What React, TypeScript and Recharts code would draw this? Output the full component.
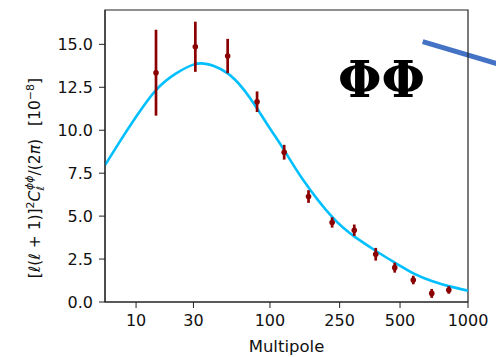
import React from 'react';
import {
  ComposedChart, Line, Scatter, ErrorBar, XAxis, YAxis, ReferenceArea,
} from 'recharts';

// binned lensing bandpowers
const ellPoints = [15, 31, 53, 83, 122, 169, 228, 298, 382, 472, 576, 698, 829];
const cppPoints = [13.35, 14.86, 14.32, 11.66, 8.72, 6.14, 4.63, 4.18, 2.78, 2.0, 1.28, 0.5, 0.7];
const cppErrors = [2.5, 1.46, 1.0, 0.6, 0.43, 0.37, 0.3, 0.33, 0.37, 0.29, 0.25, 0.26, 0.22];

// theory curve
const ellModel = [5, 7, 10, 15, 22, 30, 36, 42, 53, 67, 83, 100, 122, 158, 228, 300, 390, 480, 580, 698, 835, 1000];
const cppModel = [7.97, 9.32, 10.78, 12.34, 13.31, 13.82, 13.88, 13.75, 13.31, 12.44, 11.27, 10.1, 8.84, 7.09, 4.95, 3.79, 2.91, 2.24, 1.65, 1.22, 0.91, 0.66];

const xTickLabels = [10, 30, 100, 250, 500, 1000];
const yTickLabels = [0, 2.5, 5, 7.5, 10, 12.5, 15];

// the multipole axis is stretched like ell^0.17
const P = 0.17;
const toX = (l: number) => Math.pow(l, P);
const fromX = (v: number) => Math.round(Math.pow(v, 1 / P));

const X0 = toX(5);
const X1 = toX(1000);

const modelData = ellModel.map((l, i) => ({ x: toX(l), y: cppModel[i] }));
const pointData = ellPoints.map((l, i) => ({ x: toX(l), y: cppPoints[i], err: cppErrors[i] }));

const FONT = 'DejaVu Sans, sans-serif';
const tickStyle = { fill: '#111', fontSize: 16, fontFamily: FONT };

function YLabel() {
  return (
    <text
      transform="translate(40,178) rotate(-90)"
      textAnchor="middle"
      fontFamily={FONT}
      fontSize={15.5}
      fill="#111"
    >
      <tspan>[</tspan>
      <tspan fontStyle="italic">ℓ</tspan>
      <tspan>(</tspan>
      <tspan fontStyle="italic">ℓ</tspan>
      <tspan> + 1)]</tspan>
      <tspan dy={-6} fontSize={11}>2</tspan>
      <tspan dy={6} fontStyle="italic">C</tspan>
      <tspan dy={4} fontSize={11} fontStyle="italic">ℓ</tspan>
      <tspan dy={-11} dx={-4} fontSize={11} fontStyle="italic">ϕϕ</tspan>
      <tspan dy={7}>/(2</tspan>
      <tspan fontStyle="italic">π</tspan>
      <tspan>)</tspan>
      <tspan dx={13}>[10</tspan>
      <tspan dy={-6} fontSize={11}>−8</tspan>
      <tspan dy={6}>]</tspan>
    </text>
  );
}

const Dot = (props: any) => {
  const { cx, cy } = props;
  return <circle cx={cx} cy={cy} r={2.8} fill="#8B0000" />;
};

export default function App() {
  return (
    <div style={{ position: 'absolute', left: 0, top: 0, background: '#fff' }}>
      <ComposedChart
        width={496}
        height={357}
        margin={{ top: 10, right: 28, left: 0, bottom: 0 }}
      >
        <XAxis
          type="number"
          dataKey="x"
          domain={[X0, X1]}
          allowDataOverflow
          ticks={xTickLabels.map(toX)}
          tickFormatter={(v) => String(fromX(v))}
          tick={tickStyle}
          tickSize={6}
          tickMargin={7}
          stroke="#222"
          height={55}
          label={{ value: 'Multipole', position: 'insideBottom', offset: 5, fill: '#111', fontSize: 16.5, fontFamily: FONT }}
        />
        <YAxis
          type="number"
          domain={[0, 17]}
          allowDataOverflow
          ticks={yTickLabels}
          tickFormatter={(v) => Number(v).toFixed(1)}
          tick={tickStyle}
          tickSize={6}
          tickMargin={6}
          stroke="#222"
          width={105}
          label={{ content: () => <YLabel /> }}
        />
        <ReferenceArea x1={X0} x2={X1} y1={0} y2={17} fill="none" stroke="#222" strokeWidth={1.2} />
        <Line
          data={modelData}
          dataKey="y"
          type="natural"
          stroke="#00BFFF"
          strokeWidth={2.6}
          dot={false}
          isAnimationActive={false}
        />
        <Scatter data={pointData} dataKey="y" shape={<Dot />} isAnimationActive={false}>
          <ErrorBar dataKey="err" direction="y" width={0} stroke="#8B0000" strokeWidth={2.7} />
        </Scatter>
        <text
          x={381.5}
          y={96.5}
          textAnchor="middle"
          fontFamily="DejaVu Serif, serif"
          fontWeight="bold"
          fontSize={50}
          fill="#000"
        >
          ΦΦ
        </text>
        <line x1={422.7} y1={41.7} x2={500} y2={64.5} stroke="#4472C4" strokeWidth={5} />
      </ComposedChart>
    </div>
  );
}
